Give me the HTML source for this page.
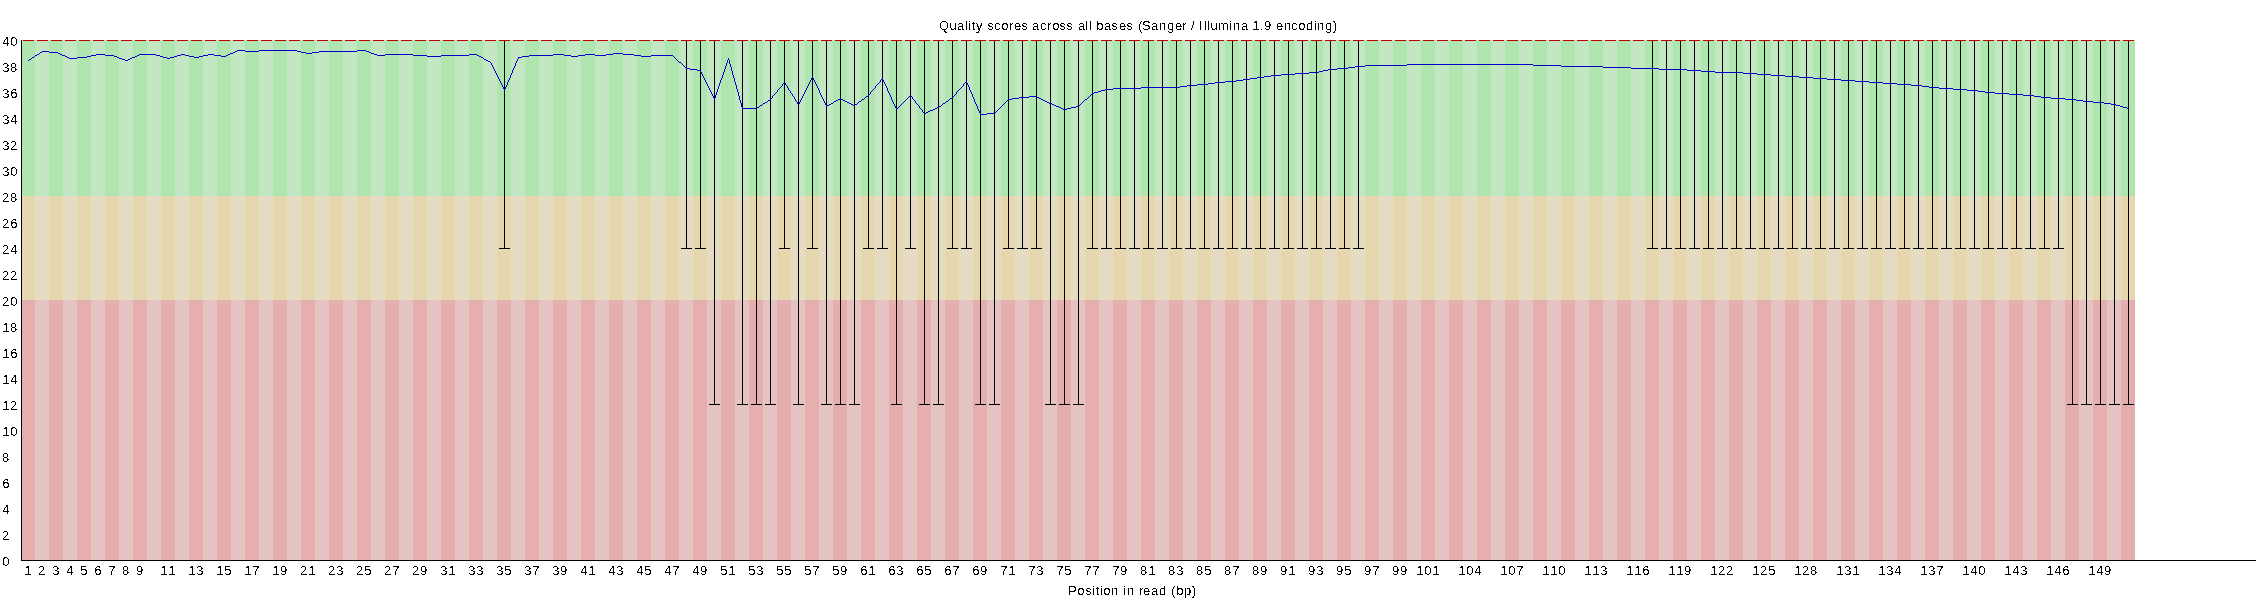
<!DOCTYPE html><html><head><meta charset="utf-8"><style>html,body{margin:0;padding:0;background:#fff;}svg{display:block;will-change:transform;}text{font-family:"Liberation Sans",sans-serif;fill:#000;}</style></head><body>
<svg width="2265" height="600" viewBox="0 0 2265 600">
<rect x="0" y="0" width="2265" height="600" fill="#fff"/>
<g shape-rendering="crispEdges">
<rect x="21" y="300" width="14" height="260" fill="#e6afaf"/>
<rect x="21" y="196" width="14" height="104" fill="#e6d7af"/>
<rect x="21" y="40" width="14" height="156" fill="#afe6af"/>
<rect x="35" y="300" width="14" height="260" fill="#e6c3c3"/>
<rect x="35" y="196" width="14" height="104" fill="#e6dcc3"/>
<rect x="35" y="40" width="14" height="156" fill="#c3e6c3"/>
<rect x="49" y="300" width="14" height="260" fill="#e6afaf"/>
<rect x="49" y="196" width="14" height="104" fill="#e6d7af"/>
<rect x="49" y="40" width="14" height="156" fill="#afe6af"/>
<rect x="63" y="300" width="14" height="260" fill="#e6c3c3"/>
<rect x="63" y="196" width="14" height="104" fill="#e6dcc3"/>
<rect x="63" y="40" width="14" height="156" fill="#c3e6c3"/>
<rect x="77" y="300" width="14" height="260" fill="#e6afaf"/>
<rect x="77" y="196" width="14" height="104" fill="#e6d7af"/>
<rect x="77" y="40" width="14" height="156" fill="#afe6af"/>
<rect x="91" y="300" width="14" height="260" fill="#e6c3c3"/>
<rect x="91" y="196" width="14" height="104" fill="#e6dcc3"/>
<rect x="91" y="40" width="14" height="156" fill="#c3e6c3"/>
<rect x="105" y="300" width="14" height="260" fill="#e6afaf"/>
<rect x="105" y="196" width="14" height="104" fill="#e6d7af"/>
<rect x="105" y="40" width="14" height="156" fill="#afe6af"/>
<rect x="119" y="300" width="14" height="260" fill="#e6c3c3"/>
<rect x="119" y="196" width="14" height="104" fill="#e6dcc3"/>
<rect x="119" y="40" width="14" height="156" fill="#c3e6c3"/>
<rect x="133" y="300" width="14" height="260" fill="#e6afaf"/>
<rect x="133" y="196" width="14" height="104" fill="#e6d7af"/>
<rect x="133" y="40" width="14" height="156" fill="#afe6af"/>
<rect x="147" y="300" width="14" height="260" fill="#e6c3c3"/>
<rect x="147" y="196" width="14" height="104" fill="#e6dcc3"/>
<rect x="147" y="40" width="14" height="156" fill="#c3e6c3"/>
<rect x="161" y="300" width="14" height="260" fill="#e6afaf"/>
<rect x="161" y="196" width="14" height="104" fill="#e6d7af"/>
<rect x="161" y="40" width="14" height="156" fill="#afe6af"/>
<rect x="175" y="300" width="14" height="260" fill="#e6c3c3"/>
<rect x="175" y="196" width="14" height="104" fill="#e6dcc3"/>
<rect x="175" y="40" width="14" height="156" fill="#c3e6c3"/>
<rect x="189" y="300" width="14" height="260" fill="#e6afaf"/>
<rect x="189" y="196" width="14" height="104" fill="#e6d7af"/>
<rect x="189" y="40" width="14" height="156" fill="#afe6af"/>
<rect x="203" y="300" width="14" height="260" fill="#e6c3c3"/>
<rect x="203" y="196" width="14" height="104" fill="#e6dcc3"/>
<rect x="203" y="40" width="14" height="156" fill="#c3e6c3"/>
<rect x="217" y="300" width="14" height="260" fill="#e6afaf"/>
<rect x="217" y="196" width="14" height="104" fill="#e6d7af"/>
<rect x="217" y="40" width="14" height="156" fill="#afe6af"/>
<rect x="231" y="300" width="14" height="260" fill="#e6c3c3"/>
<rect x="231" y="196" width="14" height="104" fill="#e6dcc3"/>
<rect x="231" y="40" width="14" height="156" fill="#c3e6c3"/>
<rect x="245" y="300" width="14" height="260" fill="#e6afaf"/>
<rect x="245" y="196" width="14" height="104" fill="#e6d7af"/>
<rect x="245" y="40" width="14" height="156" fill="#afe6af"/>
<rect x="259" y="300" width="14" height="260" fill="#e6c3c3"/>
<rect x="259" y="196" width="14" height="104" fill="#e6dcc3"/>
<rect x="259" y="40" width="14" height="156" fill="#c3e6c3"/>
<rect x="273" y="300" width="14" height="260" fill="#e6afaf"/>
<rect x="273" y="196" width="14" height="104" fill="#e6d7af"/>
<rect x="273" y="40" width="14" height="156" fill="#afe6af"/>
<rect x="287" y="300" width="14" height="260" fill="#e6c3c3"/>
<rect x="287" y="196" width="14" height="104" fill="#e6dcc3"/>
<rect x="287" y="40" width="14" height="156" fill="#c3e6c3"/>
<rect x="301" y="300" width="14" height="260" fill="#e6afaf"/>
<rect x="301" y="196" width="14" height="104" fill="#e6d7af"/>
<rect x="301" y="40" width="14" height="156" fill="#afe6af"/>
<rect x="315" y="300" width="14" height="260" fill="#e6c3c3"/>
<rect x="315" y="196" width="14" height="104" fill="#e6dcc3"/>
<rect x="315" y="40" width="14" height="156" fill="#c3e6c3"/>
<rect x="329" y="300" width="14" height="260" fill="#e6afaf"/>
<rect x="329" y="196" width="14" height="104" fill="#e6d7af"/>
<rect x="329" y="40" width="14" height="156" fill="#afe6af"/>
<rect x="343" y="300" width="14" height="260" fill="#e6c3c3"/>
<rect x="343" y="196" width="14" height="104" fill="#e6dcc3"/>
<rect x="343" y="40" width="14" height="156" fill="#c3e6c3"/>
<rect x="357" y="300" width="14" height="260" fill="#e6afaf"/>
<rect x="357" y="196" width="14" height="104" fill="#e6d7af"/>
<rect x="357" y="40" width="14" height="156" fill="#afe6af"/>
<rect x="371" y="300" width="14" height="260" fill="#e6c3c3"/>
<rect x="371" y="196" width="14" height="104" fill="#e6dcc3"/>
<rect x="371" y="40" width="14" height="156" fill="#c3e6c3"/>
<rect x="385" y="300" width="14" height="260" fill="#e6afaf"/>
<rect x="385" y="196" width="14" height="104" fill="#e6d7af"/>
<rect x="385" y="40" width="14" height="156" fill="#afe6af"/>
<rect x="399" y="300" width="14" height="260" fill="#e6c3c3"/>
<rect x="399" y="196" width="14" height="104" fill="#e6dcc3"/>
<rect x="399" y="40" width="14" height="156" fill="#c3e6c3"/>
<rect x="413" y="300" width="14" height="260" fill="#e6afaf"/>
<rect x="413" y="196" width="14" height="104" fill="#e6d7af"/>
<rect x="413" y="40" width="14" height="156" fill="#afe6af"/>
<rect x="427" y="300" width="14" height="260" fill="#e6c3c3"/>
<rect x="427" y="196" width="14" height="104" fill="#e6dcc3"/>
<rect x="427" y="40" width="14" height="156" fill="#c3e6c3"/>
<rect x="441" y="300" width="14" height="260" fill="#e6afaf"/>
<rect x="441" y="196" width="14" height="104" fill="#e6d7af"/>
<rect x="441" y="40" width="14" height="156" fill="#afe6af"/>
<rect x="455" y="300" width="14" height="260" fill="#e6c3c3"/>
<rect x="455" y="196" width="14" height="104" fill="#e6dcc3"/>
<rect x="455" y="40" width="14" height="156" fill="#c3e6c3"/>
<rect x="469" y="300" width="14" height="260" fill="#e6afaf"/>
<rect x="469" y="196" width="14" height="104" fill="#e6d7af"/>
<rect x="469" y="40" width="14" height="156" fill="#afe6af"/>
<rect x="483" y="300" width="14" height="260" fill="#e6c3c3"/>
<rect x="483" y="196" width="14" height="104" fill="#e6dcc3"/>
<rect x="483" y="40" width="14" height="156" fill="#c3e6c3"/>
<rect x="497" y="300" width="14" height="260" fill="#e6afaf"/>
<rect x="497" y="196" width="14" height="104" fill="#e6d7af"/>
<rect x="497" y="40" width="14" height="156" fill="#afe6af"/>
<rect x="511" y="300" width="14" height="260" fill="#e6c3c3"/>
<rect x="511" y="196" width="14" height="104" fill="#e6dcc3"/>
<rect x="511" y="40" width="14" height="156" fill="#c3e6c3"/>
<rect x="525" y="300" width="14" height="260" fill="#e6afaf"/>
<rect x="525" y="196" width="14" height="104" fill="#e6d7af"/>
<rect x="525" y="40" width="14" height="156" fill="#afe6af"/>
<rect x="539" y="300" width="14" height="260" fill="#e6c3c3"/>
<rect x="539" y="196" width="14" height="104" fill="#e6dcc3"/>
<rect x="539" y="40" width="14" height="156" fill="#c3e6c3"/>
<rect x="553" y="300" width="14" height="260" fill="#e6afaf"/>
<rect x="553" y="196" width="14" height="104" fill="#e6d7af"/>
<rect x="553" y="40" width="14" height="156" fill="#afe6af"/>
<rect x="567" y="300" width="14" height="260" fill="#e6c3c3"/>
<rect x="567" y="196" width="14" height="104" fill="#e6dcc3"/>
<rect x="567" y="40" width="14" height="156" fill="#c3e6c3"/>
<rect x="581" y="300" width="14" height="260" fill="#e6afaf"/>
<rect x="581" y="196" width="14" height="104" fill="#e6d7af"/>
<rect x="581" y="40" width="14" height="156" fill="#afe6af"/>
<rect x="595" y="300" width="14" height="260" fill="#e6c3c3"/>
<rect x="595" y="196" width="14" height="104" fill="#e6dcc3"/>
<rect x="595" y="40" width="14" height="156" fill="#c3e6c3"/>
<rect x="609" y="300" width="14" height="260" fill="#e6afaf"/>
<rect x="609" y="196" width="14" height="104" fill="#e6d7af"/>
<rect x="609" y="40" width="14" height="156" fill="#afe6af"/>
<rect x="623" y="300" width="14" height="260" fill="#e6c3c3"/>
<rect x="623" y="196" width="14" height="104" fill="#e6dcc3"/>
<rect x="623" y="40" width="14" height="156" fill="#c3e6c3"/>
<rect x="637" y="300" width="14" height="260" fill="#e6afaf"/>
<rect x="637" y="196" width="14" height="104" fill="#e6d7af"/>
<rect x="637" y="40" width="14" height="156" fill="#afe6af"/>
<rect x="651" y="300" width="14" height="260" fill="#e6c3c3"/>
<rect x="651" y="196" width="14" height="104" fill="#e6dcc3"/>
<rect x="651" y="40" width="14" height="156" fill="#c3e6c3"/>
<rect x="665" y="300" width="14" height="260" fill="#e6afaf"/>
<rect x="665" y="196" width="14" height="104" fill="#e6d7af"/>
<rect x="665" y="40" width="14" height="156" fill="#afe6af"/>
<rect x="679" y="300" width="14" height="260" fill="#e6c3c3"/>
<rect x="679" y="196" width="14" height="104" fill="#e6dcc3"/>
<rect x="679" y="40" width="14" height="156" fill="#c3e6c3"/>
<rect x="693" y="300" width="14" height="260" fill="#e6afaf"/>
<rect x="693" y="196" width="14" height="104" fill="#e6d7af"/>
<rect x="693" y="40" width="14" height="156" fill="#afe6af"/>
<rect x="707" y="300" width="14" height="260" fill="#e6c3c3"/>
<rect x="707" y="196" width="14" height="104" fill="#e6dcc3"/>
<rect x="707" y="40" width="14" height="156" fill="#c3e6c3"/>
<rect x="721" y="300" width="14" height="260" fill="#e6afaf"/>
<rect x="721" y="196" width="14" height="104" fill="#e6d7af"/>
<rect x="721" y="40" width="14" height="156" fill="#afe6af"/>
<rect x="735" y="300" width="14" height="260" fill="#e6c3c3"/>
<rect x="735" y="196" width="14" height="104" fill="#e6dcc3"/>
<rect x="735" y="40" width="14" height="156" fill="#c3e6c3"/>
<rect x="749" y="300" width="14" height="260" fill="#e6afaf"/>
<rect x="749" y="196" width="14" height="104" fill="#e6d7af"/>
<rect x="749" y="40" width="14" height="156" fill="#afe6af"/>
<rect x="763" y="300" width="14" height="260" fill="#e6c3c3"/>
<rect x="763" y="196" width="14" height="104" fill="#e6dcc3"/>
<rect x="763" y="40" width="14" height="156" fill="#c3e6c3"/>
<rect x="777" y="300" width="14" height="260" fill="#e6afaf"/>
<rect x="777" y="196" width="14" height="104" fill="#e6d7af"/>
<rect x="777" y="40" width="14" height="156" fill="#afe6af"/>
<rect x="791" y="300" width="14" height="260" fill="#e6c3c3"/>
<rect x="791" y="196" width="14" height="104" fill="#e6dcc3"/>
<rect x="791" y="40" width="14" height="156" fill="#c3e6c3"/>
<rect x="805" y="300" width="14" height="260" fill="#e6afaf"/>
<rect x="805" y="196" width="14" height="104" fill="#e6d7af"/>
<rect x="805" y="40" width="14" height="156" fill="#afe6af"/>
<rect x="819" y="300" width="14" height="260" fill="#e6c3c3"/>
<rect x="819" y="196" width="14" height="104" fill="#e6dcc3"/>
<rect x="819" y="40" width="14" height="156" fill="#c3e6c3"/>
<rect x="833" y="300" width="14" height="260" fill="#e6afaf"/>
<rect x="833" y="196" width="14" height="104" fill="#e6d7af"/>
<rect x="833" y="40" width="14" height="156" fill="#afe6af"/>
<rect x="847" y="300" width="14" height="260" fill="#e6c3c3"/>
<rect x="847" y="196" width="14" height="104" fill="#e6dcc3"/>
<rect x="847" y="40" width="14" height="156" fill="#c3e6c3"/>
<rect x="861" y="300" width="14" height="260" fill="#e6afaf"/>
<rect x="861" y="196" width="14" height="104" fill="#e6d7af"/>
<rect x="861" y="40" width="14" height="156" fill="#afe6af"/>
<rect x="875" y="300" width="14" height="260" fill="#e6c3c3"/>
<rect x="875" y="196" width="14" height="104" fill="#e6dcc3"/>
<rect x="875" y="40" width="14" height="156" fill="#c3e6c3"/>
<rect x="889" y="300" width="14" height="260" fill="#e6afaf"/>
<rect x="889" y="196" width="14" height="104" fill="#e6d7af"/>
<rect x="889" y="40" width="14" height="156" fill="#afe6af"/>
<rect x="903" y="300" width="14" height="260" fill="#e6c3c3"/>
<rect x="903" y="196" width="14" height="104" fill="#e6dcc3"/>
<rect x="903" y="40" width="14" height="156" fill="#c3e6c3"/>
<rect x="917" y="300" width="14" height="260" fill="#e6afaf"/>
<rect x="917" y="196" width="14" height="104" fill="#e6d7af"/>
<rect x="917" y="40" width="14" height="156" fill="#afe6af"/>
<rect x="931" y="300" width="14" height="260" fill="#e6c3c3"/>
<rect x="931" y="196" width="14" height="104" fill="#e6dcc3"/>
<rect x="931" y="40" width="14" height="156" fill="#c3e6c3"/>
<rect x="945" y="300" width="14" height="260" fill="#e6afaf"/>
<rect x="945" y="196" width="14" height="104" fill="#e6d7af"/>
<rect x="945" y="40" width="14" height="156" fill="#afe6af"/>
<rect x="959" y="300" width="14" height="260" fill="#e6c3c3"/>
<rect x="959" y="196" width="14" height="104" fill="#e6dcc3"/>
<rect x="959" y="40" width="14" height="156" fill="#c3e6c3"/>
<rect x="973" y="300" width="14" height="260" fill="#e6afaf"/>
<rect x="973" y="196" width="14" height="104" fill="#e6d7af"/>
<rect x="973" y="40" width="14" height="156" fill="#afe6af"/>
<rect x="987" y="300" width="14" height="260" fill="#e6c3c3"/>
<rect x="987" y="196" width="14" height="104" fill="#e6dcc3"/>
<rect x="987" y="40" width="14" height="156" fill="#c3e6c3"/>
<rect x="1001" y="300" width="14" height="260" fill="#e6afaf"/>
<rect x="1001" y="196" width="14" height="104" fill="#e6d7af"/>
<rect x="1001" y="40" width="14" height="156" fill="#afe6af"/>
<rect x="1015" y="300" width="14" height="260" fill="#e6c3c3"/>
<rect x="1015" y="196" width="14" height="104" fill="#e6dcc3"/>
<rect x="1015" y="40" width="14" height="156" fill="#c3e6c3"/>
<rect x="1029" y="300" width="14" height="260" fill="#e6afaf"/>
<rect x="1029" y="196" width="14" height="104" fill="#e6d7af"/>
<rect x="1029" y="40" width="14" height="156" fill="#afe6af"/>
<rect x="1043" y="300" width="14" height="260" fill="#e6c3c3"/>
<rect x="1043" y="196" width="14" height="104" fill="#e6dcc3"/>
<rect x="1043" y="40" width="14" height="156" fill="#c3e6c3"/>
<rect x="1057" y="300" width="14" height="260" fill="#e6afaf"/>
<rect x="1057" y="196" width="14" height="104" fill="#e6d7af"/>
<rect x="1057" y="40" width="14" height="156" fill="#afe6af"/>
<rect x="1071" y="300" width="14" height="260" fill="#e6c3c3"/>
<rect x="1071" y="196" width="14" height="104" fill="#e6dcc3"/>
<rect x="1071" y="40" width="14" height="156" fill="#c3e6c3"/>
<rect x="1085" y="300" width="14" height="260" fill="#e6afaf"/>
<rect x="1085" y="196" width="14" height="104" fill="#e6d7af"/>
<rect x="1085" y="40" width="14" height="156" fill="#afe6af"/>
<rect x="1099" y="300" width="14" height="260" fill="#e6c3c3"/>
<rect x="1099" y="196" width="14" height="104" fill="#e6dcc3"/>
<rect x="1099" y="40" width="14" height="156" fill="#c3e6c3"/>
<rect x="1113" y="300" width="14" height="260" fill="#e6afaf"/>
<rect x="1113" y="196" width="14" height="104" fill="#e6d7af"/>
<rect x="1113" y="40" width="14" height="156" fill="#afe6af"/>
<rect x="1127" y="300" width="14" height="260" fill="#e6c3c3"/>
<rect x="1127" y="196" width="14" height="104" fill="#e6dcc3"/>
<rect x="1127" y="40" width="14" height="156" fill="#c3e6c3"/>
<rect x="1141" y="300" width="14" height="260" fill="#e6afaf"/>
<rect x="1141" y="196" width="14" height="104" fill="#e6d7af"/>
<rect x="1141" y="40" width="14" height="156" fill="#afe6af"/>
<rect x="1155" y="300" width="14" height="260" fill="#e6c3c3"/>
<rect x="1155" y="196" width="14" height="104" fill="#e6dcc3"/>
<rect x="1155" y="40" width="14" height="156" fill="#c3e6c3"/>
<rect x="1169" y="300" width="14" height="260" fill="#e6afaf"/>
<rect x="1169" y="196" width="14" height="104" fill="#e6d7af"/>
<rect x="1169" y="40" width="14" height="156" fill="#afe6af"/>
<rect x="1183" y="300" width="14" height="260" fill="#e6c3c3"/>
<rect x="1183" y="196" width="14" height="104" fill="#e6dcc3"/>
<rect x="1183" y="40" width="14" height="156" fill="#c3e6c3"/>
<rect x="1197" y="300" width="14" height="260" fill="#e6afaf"/>
<rect x="1197" y="196" width="14" height="104" fill="#e6d7af"/>
<rect x="1197" y="40" width="14" height="156" fill="#afe6af"/>
<rect x="1211" y="300" width="14" height="260" fill="#e6c3c3"/>
<rect x="1211" y="196" width="14" height="104" fill="#e6dcc3"/>
<rect x="1211" y="40" width="14" height="156" fill="#c3e6c3"/>
<rect x="1225" y="300" width="14" height="260" fill="#e6afaf"/>
<rect x="1225" y="196" width="14" height="104" fill="#e6d7af"/>
<rect x="1225" y="40" width="14" height="156" fill="#afe6af"/>
<rect x="1239" y="300" width="14" height="260" fill="#e6c3c3"/>
<rect x="1239" y="196" width="14" height="104" fill="#e6dcc3"/>
<rect x="1239" y="40" width="14" height="156" fill="#c3e6c3"/>
<rect x="1253" y="300" width="14" height="260" fill="#e6afaf"/>
<rect x="1253" y="196" width="14" height="104" fill="#e6d7af"/>
<rect x="1253" y="40" width="14" height="156" fill="#afe6af"/>
<rect x="1267" y="300" width="14" height="260" fill="#e6c3c3"/>
<rect x="1267" y="196" width="14" height="104" fill="#e6dcc3"/>
<rect x="1267" y="40" width="14" height="156" fill="#c3e6c3"/>
<rect x="1281" y="300" width="14" height="260" fill="#e6afaf"/>
<rect x="1281" y="196" width="14" height="104" fill="#e6d7af"/>
<rect x="1281" y="40" width="14" height="156" fill="#afe6af"/>
<rect x="1295" y="300" width="14" height="260" fill="#e6c3c3"/>
<rect x="1295" y="196" width="14" height="104" fill="#e6dcc3"/>
<rect x="1295" y="40" width="14" height="156" fill="#c3e6c3"/>
<rect x="1309" y="300" width="14" height="260" fill="#e6afaf"/>
<rect x="1309" y="196" width="14" height="104" fill="#e6d7af"/>
<rect x="1309" y="40" width="14" height="156" fill="#afe6af"/>
<rect x="1323" y="300" width="14" height="260" fill="#e6c3c3"/>
<rect x="1323" y="196" width="14" height="104" fill="#e6dcc3"/>
<rect x="1323" y="40" width="14" height="156" fill="#c3e6c3"/>
<rect x="1337" y="300" width="14" height="260" fill="#e6afaf"/>
<rect x="1337" y="196" width="14" height="104" fill="#e6d7af"/>
<rect x="1337" y="40" width="14" height="156" fill="#afe6af"/>
<rect x="1351" y="300" width="14" height="260" fill="#e6c3c3"/>
<rect x="1351" y="196" width="14" height="104" fill="#e6dcc3"/>
<rect x="1351" y="40" width="14" height="156" fill="#c3e6c3"/>
<rect x="1365" y="300" width="14" height="260" fill="#e6afaf"/>
<rect x="1365" y="196" width="14" height="104" fill="#e6d7af"/>
<rect x="1365" y="40" width="14" height="156" fill="#afe6af"/>
<rect x="1379" y="300" width="14" height="260" fill="#e6c3c3"/>
<rect x="1379" y="196" width="14" height="104" fill="#e6dcc3"/>
<rect x="1379" y="40" width="14" height="156" fill="#c3e6c3"/>
<rect x="1393" y="300" width="14" height="260" fill="#e6afaf"/>
<rect x="1393" y="196" width="14" height="104" fill="#e6d7af"/>
<rect x="1393" y="40" width="14" height="156" fill="#afe6af"/>
<rect x="1407" y="300" width="14" height="260" fill="#e6c3c3"/>
<rect x="1407" y="196" width="14" height="104" fill="#e6dcc3"/>
<rect x="1407" y="40" width="14" height="156" fill="#c3e6c3"/>
<rect x="1421" y="300" width="14" height="260" fill="#e6afaf"/>
<rect x="1421" y="196" width="14" height="104" fill="#e6d7af"/>
<rect x="1421" y="40" width="14" height="156" fill="#afe6af"/>
<rect x="1435" y="300" width="14" height="260" fill="#e6c3c3"/>
<rect x="1435" y="196" width="14" height="104" fill="#e6dcc3"/>
<rect x="1435" y="40" width="14" height="156" fill="#c3e6c3"/>
<rect x="1449" y="300" width="14" height="260" fill="#e6afaf"/>
<rect x="1449" y="196" width="14" height="104" fill="#e6d7af"/>
<rect x="1449" y="40" width="14" height="156" fill="#afe6af"/>
<rect x="1463" y="300" width="14" height="260" fill="#e6c3c3"/>
<rect x="1463" y="196" width="14" height="104" fill="#e6dcc3"/>
<rect x="1463" y="40" width="14" height="156" fill="#c3e6c3"/>
<rect x="1477" y="300" width="14" height="260" fill="#e6afaf"/>
<rect x="1477" y="196" width="14" height="104" fill="#e6d7af"/>
<rect x="1477" y="40" width="14" height="156" fill="#afe6af"/>
<rect x="1491" y="300" width="14" height="260" fill="#e6c3c3"/>
<rect x="1491" y="196" width="14" height="104" fill="#e6dcc3"/>
<rect x="1491" y="40" width="14" height="156" fill="#c3e6c3"/>
<rect x="1505" y="300" width="14" height="260" fill="#e6afaf"/>
<rect x="1505" y="196" width="14" height="104" fill="#e6d7af"/>
<rect x="1505" y="40" width="14" height="156" fill="#afe6af"/>
<rect x="1519" y="300" width="14" height="260" fill="#e6c3c3"/>
<rect x="1519" y="196" width="14" height="104" fill="#e6dcc3"/>
<rect x="1519" y="40" width="14" height="156" fill="#c3e6c3"/>
<rect x="1533" y="300" width="14" height="260" fill="#e6afaf"/>
<rect x="1533" y="196" width="14" height="104" fill="#e6d7af"/>
<rect x="1533" y="40" width="14" height="156" fill="#afe6af"/>
<rect x="1547" y="300" width="14" height="260" fill="#e6c3c3"/>
<rect x="1547" y="196" width="14" height="104" fill="#e6dcc3"/>
<rect x="1547" y="40" width="14" height="156" fill="#c3e6c3"/>
<rect x="1561" y="300" width="14" height="260" fill="#e6afaf"/>
<rect x="1561" y="196" width="14" height="104" fill="#e6d7af"/>
<rect x="1561" y="40" width="14" height="156" fill="#afe6af"/>
<rect x="1575" y="300" width="14" height="260" fill="#e6c3c3"/>
<rect x="1575" y="196" width="14" height="104" fill="#e6dcc3"/>
<rect x="1575" y="40" width="14" height="156" fill="#c3e6c3"/>
<rect x="1589" y="300" width="14" height="260" fill="#e6afaf"/>
<rect x="1589" y="196" width="14" height="104" fill="#e6d7af"/>
<rect x="1589" y="40" width="14" height="156" fill="#afe6af"/>
<rect x="1603" y="300" width="14" height="260" fill="#e6c3c3"/>
<rect x="1603" y="196" width="14" height="104" fill="#e6dcc3"/>
<rect x="1603" y="40" width="14" height="156" fill="#c3e6c3"/>
<rect x="1617" y="300" width="14" height="260" fill="#e6afaf"/>
<rect x="1617" y="196" width="14" height="104" fill="#e6d7af"/>
<rect x="1617" y="40" width="14" height="156" fill="#afe6af"/>
<rect x="1631" y="300" width="14" height="260" fill="#e6c3c3"/>
<rect x="1631" y="196" width="14" height="104" fill="#e6dcc3"/>
<rect x="1631" y="40" width="14" height="156" fill="#c3e6c3"/>
<rect x="1645" y="300" width="14" height="260" fill="#e6afaf"/>
<rect x="1645" y="196" width="14" height="104" fill="#e6d7af"/>
<rect x="1645" y="40" width="14" height="156" fill="#afe6af"/>
<rect x="1659" y="300" width="14" height="260" fill="#e6c3c3"/>
<rect x="1659" y="196" width="14" height="104" fill="#e6dcc3"/>
<rect x="1659" y="40" width="14" height="156" fill="#c3e6c3"/>
<rect x="1673" y="300" width="14" height="260" fill="#e6afaf"/>
<rect x="1673" y="196" width="14" height="104" fill="#e6d7af"/>
<rect x="1673" y="40" width="14" height="156" fill="#afe6af"/>
<rect x="1687" y="300" width="14" height="260" fill="#e6c3c3"/>
<rect x="1687" y="196" width="14" height="104" fill="#e6dcc3"/>
<rect x="1687" y="40" width="14" height="156" fill="#c3e6c3"/>
<rect x="1701" y="300" width="14" height="260" fill="#e6afaf"/>
<rect x="1701" y="196" width="14" height="104" fill="#e6d7af"/>
<rect x="1701" y="40" width="14" height="156" fill="#afe6af"/>
<rect x="1715" y="300" width="14" height="260" fill="#e6c3c3"/>
<rect x="1715" y="196" width="14" height="104" fill="#e6dcc3"/>
<rect x="1715" y="40" width="14" height="156" fill="#c3e6c3"/>
<rect x="1729" y="300" width="14" height="260" fill="#e6afaf"/>
<rect x="1729" y="196" width="14" height="104" fill="#e6d7af"/>
<rect x="1729" y="40" width="14" height="156" fill="#afe6af"/>
<rect x="1743" y="300" width="14" height="260" fill="#e6c3c3"/>
<rect x="1743" y="196" width="14" height="104" fill="#e6dcc3"/>
<rect x="1743" y="40" width="14" height="156" fill="#c3e6c3"/>
<rect x="1757" y="300" width="14" height="260" fill="#e6afaf"/>
<rect x="1757" y="196" width="14" height="104" fill="#e6d7af"/>
<rect x="1757" y="40" width="14" height="156" fill="#afe6af"/>
<rect x="1771" y="300" width="14" height="260" fill="#e6c3c3"/>
<rect x="1771" y="196" width="14" height="104" fill="#e6dcc3"/>
<rect x="1771" y="40" width="14" height="156" fill="#c3e6c3"/>
<rect x="1785" y="300" width="14" height="260" fill="#e6afaf"/>
<rect x="1785" y="196" width="14" height="104" fill="#e6d7af"/>
<rect x="1785" y="40" width="14" height="156" fill="#afe6af"/>
<rect x="1799" y="300" width="14" height="260" fill="#e6c3c3"/>
<rect x="1799" y="196" width="14" height="104" fill="#e6dcc3"/>
<rect x="1799" y="40" width="14" height="156" fill="#c3e6c3"/>
<rect x="1813" y="300" width="14" height="260" fill="#e6afaf"/>
<rect x="1813" y="196" width="14" height="104" fill="#e6d7af"/>
<rect x="1813" y="40" width="14" height="156" fill="#afe6af"/>
<rect x="1827" y="300" width="14" height="260" fill="#e6c3c3"/>
<rect x="1827" y="196" width="14" height="104" fill="#e6dcc3"/>
<rect x="1827" y="40" width="14" height="156" fill="#c3e6c3"/>
<rect x="1841" y="300" width="14" height="260" fill="#e6afaf"/>
<rect x="1841" y="196" width="14" height="104" fill="#e6d7af"/>
<rect x="1841" y="40" width="14" height="156" fill="#afe6af"/>
<rect x="1855" y="300" width="14" height="260" fill="#e6c3c3"/>
<rect x="1855" y="196" width="14" height="104" fill="#e6dcc3"/>
<rect x="1855" y="40" width="14" height="156" fill="#c3e6c3"/>
<rect x="1869" y="300" width="14" height="260" fill="#e6afaf"/>
<rect x="1869" y="196" width="14" height="104" fill="#e6d7af"/>
<rect x="1869" y="40" width="14" height="156" fill="#afe6af"/>
<rect x="1883" y="300" width="14" height="260" fill="#e6c3c3"/>
<rect x="1883" y="196" width="14" height="104" fill="#e6dcc3"/>
<rect x="1883" y="40" width="14" height="156" fill="#c3e6c3"/>
<rect x="1897" y="300" width="14" height="260" fill="#e6afaf"/>
<rect x="1897" y="196" width="14" height="104" fill="#e6d7af"/>
<rect x="1897" y="40" width="14" height="156" fill="#afe6af"/>
<rect x="1911" y="300" width="14" height="260" fill="#e6c3c3"/>
<rect x="1911" y="196" width="14" height="104" fill="#e6dcc3"/>
<rect x="1911" y="40" width="14" height="156" fill="#c3e6c3"/>
<rect x="1925" y="300" width="14" height="260" fill="#e6afaf"/>
<rect x="1925" y="196" width="14" height="104" fill="#e6d7af"/>
<rect x="1925" y="40" width="14" height="156" fill="#afe6af"/>
<rect x="1939" y="300" width="14" height="260" fill="#e6c3c3"/>
<rect x="1939" y="196" width="14" height="104" fill="#e6dcc3"/>
<rect x="1939" y="40" width="14" height="156" fill="#c3e6c3"/>
<rect x="1953" y="300" width="14" height="260" fill="#e6afaf"/>
<rect x="1953" y="196" width="14" height="104" fill="#e6d7af"/>
<rect x="1953" y="40" width="14" height="156" fill="#afe6af"/>
<rect x="1967" y="300" width="14" height="260" fill="#e6c3c3"/>
<rect x="1967" y="196" width="14" height="104" fill="#e6dcc3"/>
<rect x="1967" y="40" width="14" height="156" fill="#c3e6c3"/>
<rect x="1981" y="300" width="14" height="260" fill="#e6afaf"/>
<rect x="1981" y="196" width="14" height="104" fill="#e6d7af"/>
<rect x="1981" y="40" width="14" height="156" fill="#afe6af"/>
<rect x="1995" y="300" width="14" height="260" fill="#e6c3c3"/>
<rect x="1995" y="196" width="14" height="104" fill="#e6dcc3"/>
<rect x="1995" y="40" width="14" height="156" fill="#c3e6c3"/>
<rect x="2009" y="300" width="14" height="260" fill="#e6afaf"/>
<rect x="2009" y="196" width="14" height="104" fill="#e6d7af"/>
<rect x="2009" y="40" width="14" height="156" fill="#afe6af"/>
<rect x="2023" y="300" width="14" height="260" fill="#e6c3c3"/>
<rect x="2023" y="196" width="14" height="104" fill="#e6dcc3"/>
<rect x="2023" y="40" width="14" height="156" fill="#c3e6c3"/>
<rect x="2037" y="300" width="14" height="260" fill="#e6afaf"/>
<rect x="2037" y="196" width="14" height="104" fill="#e6d7af"/>
<rect x="2037" y="40" width="14" height="156" fill="#afe6af"/>
<rect x="2051" y="300" width="14" height="260" fill="#e6c3c3"/>
<rect x="2051" y="196" width="14" height="104" fill="#e6dcc3"/>
<rect x="2051" y="40" width="14" height="156" fill="#c3e6c3"/>
<rect x="2065" y="300" width="14" height="260" fill="#e6afaf"/>
<rect x="2065" y="196" width="14" height="104" fill="#e6d7af"/>
<rect x="2065" y="40" width="14" height="156" fill="#afe6af"/>
<rect x="2079" y="300" width="14" height="260" fill="#e6c3c3"/>
<rect x="2079" y="196" width="14" height="104" fill="#e6dcc3"/>
<rect x="2079" y="40" width="14" height="156" fill="#c3e6c3"/>
<rect x="2093" y="300" width="14" height="260" fill="#e6afaf"/>
<rect x="2093" y="196" width="14" height="104" fill="#e6d7af"/>
<rect x="2093" y="40" width="14" height="156" fill="#afe6af"/>
<rect x="2107" y="300" width="14" height="260" fill="#e6c3c3"/>
<rect x="2107" y="196" width="14" height="104" fill="#e6dcc3"/>
<rect x="2107" y="40" width="14" height="156" fill="#c3e6c3"/>
<rect x="2121" y="300" width="14" height="260" fill="#e6afaf"/>
<rect x="2121" y="196" width="14" height="104" fill="#e6d7af"/>
<rect x="2121" y="40" width="14" height="156" fill="#afe6af"/>
<rect x="21" y="560" width="2235" height="1" fill="#000"/>
<rect x="21" y="40" width="1" height="521" fill="#000"/>
<path fill="#000" d="M504 41h1v207h-1zM499 248h11v1h-11zM686 41h1v207h-1zM681 248h11v1h-11zM700 41h1v207h-1zM695 248h11v1h-11zM714 41h1v363h-1zM709 404h11v1h-11zM742 41h1v363h-1zM737 404h11v1h-11zM756 41h1v363h-1zM751 404h11v1h-11zM770 41h1v363h-1zM765 404h11v1h-11zM784 41h1v207h-1zM779 248h11v1h-11zM798 41h1v363h-1zM793 404h11v1h-11zM812 41h1v207h-1zM807 248h11v1h-11zM826 41h1v363h-1zM821 404h11v1h-11zM840 41h1v363h-1zM835 404h11v1h-11zM854 41h1v363h-1zM849 404h11v1h-11zM868 41h1v207h-1zM863 248h11v1h-11zM882 41h1v207h-1zM877 248h11v1h-11zM896 41h1v363h-1zM891 404h11v1h-11zM910 41h1v207h-1zM905 248h11v1h-11zM924 41h1v363h-1zM919 404h11v1h-11zM938 41h1v363h-1zM933 404h11v1h-11zM952 41h1v207h-1zM947 248h11v1h-11zM966 41h1v207h-1zM961 248h11v1h-11zM980 41h1v363h-1zM975 404h11v1h-11zM994 41h1v363h-1zM989 404h11v1h-11zM1008 41h1v207h-1zM1003 248h11v1h-11zM1022 41h1v207h-1zM1017 248h11v1h-11zM1036 41h1v207h-1zM1031 248h11v1h-11zM1050 41h1v363h-1zM1045 404h11v1h-11zM1064 41h1v363h-1zM1059 404h11v1h-11zM1078 41h1v363h-1zM1073 404h11v1h-11zM1092 41h1v207h-1zM1087 248h11v1h-11zM1106 41h1v207h-1zM1101 248h11v1h-11zM1120 41h1v207h-1zM1115 248h11v1h-11zM1134 41h1v207h-1zM1129 248h11v1h-11zM1148 41h1v207h-1zM1143 248h11v1h-11zM1162 41h1v207h-1zM1157 248h11v1h-11zM1176 41h1v207h-1zM1171 248h11v1h-11zM1190 41h1v207h-1zM1185 248h11v1h-11zM1204 41h1v207h-1zM1199 248h11v1h-11zM1218 41h1v207h-1zM1213 248h11v1h-11zM1232 41h1v207h-1zM1227 248h11v1h-11zM1246 41h1v207h-1zM1241 248h11v1h-11zM1260 41h1v207h-1zM1255 248h11v1h-11zM1274 41h1v207h-1zM1269 248h11v1h-11zM1288 41h1v207h-1zM1283 248h11v1h-11zM1302 41h1v207h-1zM1297 248h11v1h-11zM1316 41h1v207h-1zM1311 248h11v1h-11zM1330 41h1v207h-1zM1325 248h11v1h-11zM1344 41h1v207h-1zM1339 248h11v1h-11zM1358 41h1v207h-1zM1353 248h11v1h-11zM1652 41h1v207h-1zM1647 248h11v1h-11zM1666 41h1v207h-1zM1661 248h11v1h-11zM1680 41h1v207h-1zM1675 248h11v1h-11zM1694 41h1v207h-1zM1689 248h11v1h-11zM1708 41h1v207h-1zM1703 248h11v1h-11zM1722 41h1v207h-1zM1717 248h11v1h-11zM1736 41h1v207h-1zM1731 248h11v1h-11zM1750 41h1v207h-1zM1745 248h11v1h-11zM1764 41h1v207h-1zM1759 248h11v1h-11zM1778 41h1v207h-1zM1773 248h11v1h-11zM1792 41h1v207h-1zM1787 248h11v1h-11zM1806 41h1v207h-1zM1801 248h11v1h-11zM1820 41h1v207h-1zM1815 248h11v1h-11zM1834 41h1v207h-1zM1829 248h11v1h-11zM1848 41h1v207h-1zM1843 248h11v1h-11zM1862 41h1v207h-1zM1857 248h11v1h-11zM1876 41h1v207h-1zM1871 248h11v1h-11zM1890 41h1v207h-1zM1885 248h11v1h-11zM1904 41h1v207h-1zM1899 248h11v1h-11zM1918 41h1v207h-1zM1913 248h11v1h-11zM1932 41h1v207h-1zM1927 248h11v1h-11zM1946 41h1v207h-1zM1941 248h11v1h-11zM1960 41h1v207h-1zM1955 248h11v1h-11zM1974 41h1v207h-1zM1969 248h11v1h-11zM1988 41h1v207h-1zM1983 248h11v1h-11zM2002 41h1v207h-1zM1997 248h11v1h-11zM2016 41h1v207h-1zM2011 248h11v1h-11zM2030 41h1v207h-1zM2025 248h11v1h-11zM2044 41h1v207h-1zM2039 248h11v1h-11zM2058 41h1v207h-1zM2053 248h11v1h-11zM2072 41h1v363h-1zM2067 404h11v1h-11zM2086 41h1v363h-1zM2081 404h11v1h-11zM2100 41h1v363h-1zM2095 404h11v1h-11zM2114 41h1v363h-1zM2109 404h11v1h-11zM2128 41h1v363h-1zM2123 404h11v1h-11z"/>
<path fill="#c80000" d="M23 40h11v1h-11zM37 40h11v1h-11zM51 40h11v1h-11zM65 40h11v1h-11zM79 40h11v1h-11zM93 40h11v1h-11zM107 40h11v1h-11zM121 40h11v1h-11zM135 40h11v1h-11zM149 40h11v1h-11zM163 40h11v1h-11zM177 40h11v1h-11zM191 40h11v1h-11zM205 40h11v1h-11zM219 40h11v1h-11zM233 40h11v1h-11zM247 40h11v1h-11zM261 40h11v1h-11zM275 40h11v1h-11zM289 40h11v1h-11zM303 40h11v1h-11zM317 40h11v1h-11zM331 40h11v1h-11zM345 40h11v1h-11zM359 40h11v1h-11zM373 40h11v1h-11zM387 40h11v1h-11zM401 40h11v1h-11zM415 40h11v1h-11zM429 40h11v1h-11zM443 40h11v1h-11zM457 40h11v1h-11zM471 40h11v1h-11zM485 40h11v1h-11zM499 40h11v1h-11zM513 40h11v1h-11zM527 40h11v1h-11zM541 40h11v1h-11zM555 40h11v1h-11zM569 40h11v1h-11zM583 40h11v1h-11zM597 40h11v1h-11zM611 40h11v1h-11zM625 40h11v1h-11zM639 40h11v1h-11zM653 40h11v1h-11zM667 40h11v1h-11zM681 40h11v1h-11zM695 40h11v1h-11zM709 40h11v1h-11zM723 40h11v1h-11zM737 40h11v1h-11zM751 40h11v1h-11zM765 40h11v1h-11zM779 40h11v1h-11zM793 40h11v1h-11zM807 40h11v1h-11zM821 40h11v1h-11zM835 40h11v1h-11zM849 40h11v1h-11zM863 40h11v1h-11zM877 40h11v1h-11zM891 40h11v1h-11zM905 40h11v1h-11zM919 40h11v1h-11zM933 40h11v1h-11zM947 40h11v1h-11zM961 40h11v1h-11zM975 40h11v1h-11zM989 40h11v1h-11zM1003 40h11v1h-11zM1017 40h11v1h-11zM1031 40h11v1h-11zM1045 40h11v1h-11zM1059 40h11v1h-11zM1073 40h11v1h-11zM1087 40h11v1h-11zM1101 40h11v1h-11zM1115 40h11v1h-11zM1129 40h11v1h-11zM1143 40h11v1h-11zM1157 40h11v1h-11zM1171 40h11v1h-11zM1185 40h11v1h-11zM1199 40h11v1h-11zM1213 40h11v1h-11zM1227 40h11v1h-11zM1241 40h11v1h-11zM1255 40h11v1h-11zM1269 40h11v1h-11zM1283 40h11v1h-11zM1297 40h11v1h-11zM1311 40h11v1h-11zM1325 40h11v1h-11zM1339 40h11v1h-11zM1353 40h11v1h-11zM1367 40h11v1h-11zM1381 40h11v1h-11zM1395 40h11v1h-11zM1409 40h11v1h-11zM1423 40h11v1h-11zM1437 40h11v1h-11zM1451 40h11v1h-11zM1465 40h11v1h-11zM1479 40h11v1h-11zM1493 40h11v1h-11zM1507 40h11v1h-11zM1521 40h11v1h-11zM1535 40h11v1h-11zM1549 40h11v1h-11zM1563 40h11v1h-11zM1577 40h11v1h-11zM1591 40h11v1h-11zM1605 40h11v1h-11zM1619 40h11v1h-11zM1633 40h11v1h-11zM1647 40h11v1h-11zM1661 40h11v1h-11zM1675 40h11v1h-11zM1689 40h11v1h-11zM1703 40h11v1h-11zM1717 40h11v1h-11zM1731 40h11v1h-11zM1745 40h11v1h-11zM1759 40h11v1h-11zM1773 40h11v1h-11zM1787 40h11v1h-11zM1801 40h11v1h-11zM1815 40h11v1h-11zM1829 40h11v1h-11zM1843 40h11v1h-11zM1857 40h11v1h-11zM1871 40h11v1h-11zM1885 40h11v1h-11zM1899 40h11v1h-11zM1913 40h11v1h-11zM1927 40h11v1h-11zM1941 40h11v1h-11zM1955 40h11v1h-11zM1969 40h11v1h-11zM1983 40h11v1h-11zM1997 40h11v1h-11zM2011 40h11v1h-11zM2025 40h11v1h-11zM2039 40h11v1h-11zM2053 40h11v1h-11zM2067 40h11v1h-11zM2081 40h11v1h-11zM2095 40h11v1h-11zM2109 40h11v1h-11zM2123 40h11v1h-11z"/>
<path fill="#0000c8" d="M237 50h8v1h-8zM259 50h38v1h-38zM357 50h9v1h-9zM42 51h7v1h-7zM235 51h2v1h-2zM245 51h14v1h-14zM297 51h4v1h-4zM319 51h38v1h-38zM366 51h3v1h-3zM40 52h2v1h-2zM49 52h9v1h-9zM233 52h2v1h-2zM301 52h5v1h-5zM312 52h7v1h-7zM369 52h2v1h-2zM39 53h1v1h-1zM58 53h2v1h-2zM230 53h3v1h-3zM306 53h6v1h-6zM371 53h3v1h-3zM613 53h10v1h-10zM37 54h2v1h-2zM60 54h2v1h-2zM96 54h9v1h-9zM139 54h17v1h-17zM181 54h4v1h-4zM208 54h6v1h-6zM228 54h2v1h-2zM374 54h3v1h-3zM385 54h28v1h-28zM469 54h8v1h-8zM553 54h11v1h-11zM585 54h10v1h-10zM606 54h7v1h-7zM623 54h11v1h-11zM35 55h2v1h-2zM62 55h3v1h-3zM91 55h5v1h-5zM105 55h9v1h-9zM137 55h2v1h-2zM156 55h4v1h-4zM177 55h4v1h-4zM185 55h4v1h-4zM203 55h5v1h-5zM214 55h7v1h-7zM226 55h2v1h-2zM377 55h8v1h-8zM413 55h14v1h-14zM441 55h28v1h-28zM477 55h2v1h-2zM529 55h24v1h-24zM564 55h7v1h-7zM578 55h7v1h-7zM595 55h11v1h-11zM634 55h7v1h-7zM651 55h22v1h-22zM34 56h1v1h-1zM65 56h2v1h-2zM87 56h4v1h-4zM114 56h3v1h-3zM135 56h2v1h-2zM160 56h3v1h-3zM174 56h3v1h-3zM189 56h5v1h-5zM199 56h4v1h-4zM221 56h5v1h-5zM427 56h14v1h-14zM479 56h2v1h-2zM522 56h7v1h-7zM571 56h7v1h-7zM641 56h10v1h-10zM673 56h1v1h-1zM32 57h2v1h-2zM67 57h2v1h-2zM77 57h10v1h-10zM117 57h2v1h-2zM132 57h3v1h-3zM163 57h4v1h-4zM170 57h4v1h-4zM194 57h5v1h-5zM481 57h2v1h-2zM518 57h4v1h-4zM674 57h1v1h-1zM31 58h1v1h-1zM69 58h8v1h-8zM119 58h3v1h-3zM130 58h2v1h-2zM167 58h3v1h-3zM483 58h1v1h-1zM518 58h1v1h-1zM675 58h1v1h-1zM728 58h1v1h-1zM29 59h2v1h-2zM122 59h3v1h-3zM128 59h2v1h-2zM484 59h2v1h-2zM517 59h1v1h-1zM676 59h1v1h-1zM728 59h1v1h-1zM28 60h1v1h-1zM125 60h3v1h-3zM486 60h2v1h-2zM517 60h1v1h-1zM677 60h1v1h-1zM727 60h1v1h-1zM729 60h1v1h-1zM488 61h2v1h-2zM516 61h1v1h-1zM678 61h1v1h-1zM727 61h1v1h-1zM729 61h1v1h-1zM490 62h1v1h-1zM516 62h1v1h-1zM679 62h2v1h-2zM727 62h1v1h-1zM729 62h1v1h-1zM491 63h1v1h-1zM515 63h1v1h-1zM681 63h1v1h-1zM726 63h1v1h-1zM729 63h1v1h-1zM491 64h1v1h-1zM515 64h1v1h-1zM682 64h1v1h-1zM726 64h1v1h-1zM730 64h1v1h-1zM1407 64h126v1h-126zM492 65h1v1h-1zM515 65h1v1h-1zM683 65h1v1h-1zM726 65h1v1h-1zM730 65h1v1h-1zM1365 65h42v1h-42zM1533 65h28v1h-28zM492 66h1v1h-1zM514 66h1v1h-1zM684 66h1v1h-1zM725 66h1v1h-1zM730 66h1v1h-1zM1355 66h10v1h-10zM1561 66h42v1h-42zM493 67h1v1h-1zM514 67h1v1h-1zM685 67h1v1h-1zM725 67h1v1h-1zM731 67h1v1h-1zM1348 67h7v1h-7zM1603 67h28v1h-28zM493 68h1v1h-1zM513 68h1v1h-1zM686 68h4v1h-4zM725 68h1v1h-1zM731 68h1v1h-1zM1337 68h11v1h-11zM1631 68h28v1h-28zM494 69h1v1h-1zM513 69h1v1h-1zM690 69h7v1h-7zM724 69h1v1h-1zM731 69h1v1h-1zM1328 69h9v1h-9zM1659 69h28v1h-28zM494 70h1v1h-1zM512 70h1v1h-1zM697 70h4v1h-4zM724 70h1v1h-1zM731 70h1v1h-1zM1323 70h5v1h-5zM1687 70h14v1h-14zM495 71h1v1h-1zM512 71h1v1h-1zM700 71h1v1h-1zM724 71h1v1h-1zM732 71h1v1h-1zM1319 71h4v1h-4zM1701 71h14v1h-14zM495 72h1v1h-1zM512 72h1v1h-1zM701 72h1v1h-1zM723 72h1v1h-1zM732 72h1v1h-1zM1309 72h10v1h-10zM1715 72h28v1h-28zM496 73h1v1h-1zM511 73h1v1h-1zM701 73h1v1h-1zM723 73h1v1h-1zM732 73h1v1h-1zM1295 73h14v1h-14zM1743 73h14v1h-14zM496 74h1v1h-1zM511 74h1v1h-1zM702 74h1v1h-1zM723 74h1v1h-1zM732 74h1v1h-1zM1281 74h14v1h-14zM1757 74h14v1h-14zM497 75h1v1h-1zM510 75h1v1h-1zM702 75h1v1h-1zM722 75h1v1h-1zM733 75h1v1h-1zM1271 75h10v1h-10zM1771 75h14v1h-14zM497 76h1v1h-1zM510 76h1v1h-1zM703 76h1v1h-1zM722 76h1v1h-1zM733 76h1v1h-1zM812 76h1v1h-1zM1264 76h7v1h-7zM1785 76h14v1h-14zM498 77h1v1h-1zM510 77h1v1h-1zM703 77h1v1h-1zM722 77h1v1h-1zM733 77h1v1h-1zM812 77h1v1h-1zM1257 77h7v1h-7zM1799 77h14v1h-14zM498 78h1v1h-1zM509 78h1v1h-1zM704 78h1v1h-1zM721 78h1v1h-1zM734 78h1v1h-1zM811 78h1v1h-1zM813 78h1v1h-1zM882 78h1v1h-1zM1250 78h7v1h-7zM1813 78h14v1h-14zM499 79h1v1h-1zM509 79h1v1h-1zM704 79h1v1h-1zM721 79h1v1h-1zM734 79h1v1h-1zM811 79h1v1h-1zM813 79h1v1h-1zM881 79h2v1h-2zM1243 79h7v1h-7zM1827 79h14v1h-14zM499 80h1v1h-1zM508 80h1v1h-1zM705 80h1v1h-1zM720 80h1v1h-1zM734 80h1v1h-1zM810 80h1v1h-1zM814 80h1v1h-1zM880 80h1v1h-1zM883 80h1v1h-1zM1236 80h7v1h-7zM1841 80h14v1h-14zM500 81h1v1h-1zM508 81h1v1h-1zM705 81h1v1h-1zM720 81h1v1h-1zM734 81h1v1h-1zM810 81h1v1h-1zM814 81h1v1h-1zM880 81h1v1h-1zM883 81h1v1h-1zM966 81h1v1h-1zM1225 81h11v1h-11zM1855 81h14v1h-14zM500 82h1v1h-1zM507 82h1v1h-1zM706 82h1v1h-1zM720 82h1v1h-1zM735 82h1v1h-1zM784 82h1v1h-1zM809 82h1v1h-1zM815 82h1v1h-1zM879 82h1v1h-1zM884 82h1v1h-1zM965 82h2v1h-2zM1215 82h10v1h-10zM1869 82h14v1h-14zM501 83h1v1h-1zM507 83h1v1h-1zM706 83h1v1h-1zM719 83h1v1h-1zM735 83h1v1h-1zM783 83h1v1h-1zM785 83h1v1h-1zM809 83h1v1h-1zM815 83h1v1h-1zM878 83h1v1h-1zM884 83h1v1h-1zM964 83h1v1h-1zM967 83h1v1h-1zM1208 83h7v1h-7zM1883 83h14v1h-14zM501 84h1v1h-1zM507 84h1v1h-1zM707 84h1v1h-1zM719 84h1v1h-1zM735 84h1v1h-1zM782 84h1v1h-1zM785 84h1v1h-1zM808 84h1v1h-1zM816 84h1v1h-1zM877 84h1v1h-1zM885 84h1v1h-1zM963 84h1v1h-1zM967 84h1v1h-1zM1197 84h11v1h-11zM1897 84h14v1h-14zM502 85h1v1h-1zM506 85h1v1h-1zM707 85h1v1h-1zM719 85h1v1h-1zM736 85h1v1h-1zM782 85h1v1h-1zM786 85h1v1h-1zM808 85h1v1h-1zM816 85h1v1h-1zM876 85h1v1h-1zM885 85h1v1h-1zM963 85h1v1h-1zM968 85h1v1h-1zM1187 85h10v1h-10zM1911 85h11v1h-11zM502 86h1v1h-1zM506 86h1v1h-1zM708 86h1v1h-1zM718 86h1v1h-1zM736 86h1v1h-1zM781 86h1v1h-1zM787 86h1v1h-1zM807 86h1v1h-1zM817 86h1v1h-1zM875 86h1v1h-1zM886 86h1v1h-1zM962 86h1v1h-1zM968 86h1v1h-1zM1180 86h7v1h-7zM1922 86h7v1h-7zM503 87h1v1h-1zM505 87h1v1h-1zM708 87h1v1h-1zM718 87h1v1h-1zM736 87h1v1h-1zM780 87h1v1h-1zM787 87h1v1h-1zM807 87h1v1h-1zM817 87h1v1h-1zM875 87h1v1h-1zM886 87h1v1h-1zM961 87h1v1h-1zM969 87h1v1h-1zM1141 87h39v1h-39zM1929 87h10v1h-10zM503 88h1v1h-1zM505 88h1v1h-1zM709 88h1v1h-1zM718 88h1v1h-1zM736 88h1v1h-1zM779 88h1v1h-1zM788 88h1v1h-1zM806 88h1v1h-1zM818 88h1v1h-1zM874 88h1v1h-1zM887 88h1v1h-1zM960 88h1v1h-1zM969 88h1v1h-1zM1113 88h28v1h-28zM1939 88h14v1h-14zM504 89h1v1h-1zM709 89h1v1h-1zM717 89h1v1h-1zM737 89h1v1h-1zM778 89h1v1h-1zM788 89h1v1h-1zM806 89h1v1h-1zM818 89h1v1h-1zM873 89h1v1h-1zM887 89h1v1h-1zM959 89h1v1h-1zM969 89h1v1h-1zM1105 89h8v1h-8zM1953 89h14v1h-14zM504 90h1v1h-1zM710 90h1v1h-1zM717 90h1v1h-1zM737 90h1v1h-1zM777 90h1v1h-1zM789 90h1v1h-1zM805 90h1v1h-1zM819 90h1v1h-1zM872 90h1v1h-1zM887 90h1v1h-1zM958 90h1v1h-1zM970 90h1v1h-1zM1101 90h4v1h-4zM1967 90h11v1h-11zM710 91h1v1h-1zM717 91h1v1h-1zM737 91h1v1h-1zM777 91h1v1h-1zM790 91h1v1h-1zM805 91h1v1h-1zM819 91h1v1h-1zM871 91h1v1h-1zM888 91h1v1h-1zM957 91h1v1h-1zM970 91h1v1h-1zM1098 91h3v1h-3zM1978 91h7v1h-7zM711 92h1v1h-1zM716 92h1v1h-1zM738 92h1v1h-1zM776 92h1v1h-1zM790 92h1v1h-1zM804 92h1v1h-1zM819 92h1v1h-1zM870 92h1v1h-1zM888 92h1v1h-1zM956 92h1v1h-1zM971 92h1v1h-1zM1094 92h4v1h-4zM1985 92h10v1h-10zM711 93h1v1h-1zM716 93h1v1h-1zM738 93h1v1h-1zM775 93h1v1h-1zM791 93h1v1h-1zM804 93h1v1h-1zM820 93h1v1h-1zM870 93h1v1h-1zM889 93h1v1h-1zM956 93h1v1h-1zM971 93h1v1h-1zM1092 93h2v1h-2zM1995 93h14v1h-14zM712 94h1v1h-1zM716 94h1v1h-1zM738 94h1v1h-1zM774 94h1v1h-1zM792 94h1v1h-1zM803 94h1v1h-1zM820 94h1v1h-1zM869 94h1v1h-1zM889 94h1v1h-1zM955 94h1v1h-1zM972 94h1v1h-1zM1091 94h1v1h-1zM2009 94h14v1h-14zM712 95h1v1h-1zM715 95h1v1h-1zM738 95h1v1h-1zM773 95h1v1h-1zM792 95h1v1h-1zM803 95h1v1h-1zM821 95h1v1h-1zM868 95h1v1h-1zM890 95h1v1h-1zM910 95h1v1h-1zM954 95h1v1h-1zM972 95h1v1h-1zM1090 95h1v1h-1zM2023 95h11v1h-11zM713 96h1v1h-1zM715 96h1v1h-1zM739 96h1v1h-1zM772 96h1v1h-1zM793 96h1v1h-1zM802 96h1v1h-1zM821 96h1v1h-1zM866 96h2v1h-2zM890 96h1v1h-1zM909 96h1v1h-1zM911 96h1v1h-1zM953 96h1v1h-1zM972 96h1v1h-1zM1029 96h8v1h-8zM1089 96h1v1h-1zM2034 96h7v1h-7zM713 97h1v1h-1zM715 97h1v1h-1zM739 97h1v1h-1zM772 97h1v1h-1zM794 97h1v1h-1zM802 97h1v1h-1zM822 97h1v1h-1zM865 97h1v1h-1zM891 97h1v1h-1zM908 97h1v1h-1zM912 97h1v1h-1zM952 97h1v1h-1zM973 97h1v1h-1zM1019 97h10v1h-10zM1037 97h2v1h-2zM1088 97h1v1h-1zM2041 97h10v1h-10zM714 98h1v1h-1zM739 98h1v1h-1zM771 98h1v1h-1zM794 98h1v1h-1zM801 98h1v1h-1zM822 98h1v1h-1zM840 98h1v1h-1zM864 98h1v1h-1zM891 98h1v1h-1zM907 98h1v1h-1zM912 98h1v1h-1zM950 98h2v1h-2zM973 98h1v1h-1zM1012 98h7v1h-7zM1039 98h2v1h-2zM1087 98h1v1h-1zM2051 98h14v1h-14zM714 99h1v1h-1zM739 99h1v1h-1zM770 99h1v1h-1zM795 99h1v1h-1zM801 99h1v1h-1zM823 99h1v1h-1zM838 99h2v1h-2zM841 99h2v1h-2zM862 99h2v1h-2zM891 99h1v1h-1zM906 99h1v1h-1zM913 99h1v1h-1zM949 99h1v1h-1zM974 99h1v1h-1zM1008 99h4v1h-4zM1041 99h2v1h-2zM1085 99h2v1h-2zM2065 99h11v1h-11zM740 100h1v1h-1zM768 100h2v1h-2zM795 100h1v1h-1zM800 100h1v1h-1zM823 100h1v1h-1zM836 100h2v1h-2zM843 100h2v1h-2zM861 100h1v1h-1zM892 100h1v1h-1zM905 100h1v1h-1zM914 100h1v1h-1zM948 100h1v1h-1zM974 100h1v1h-1zM1007 100h1v1h-1zM1043 100h2v1h-2zM1084 100h1v1h-1zM2076 100h7v1h-7zM740 101h1v1h-1zM767 101h1v1h-1zM796 101h1v1h-1zM800 101h1v1h-1zM824 101h1v1h-1zM834 101h2v1h-2zM845 101h2v1h-2zM859 101h2v1h-2zM892 101h1v1h-1zM904 101h1v1h-1zM915 101h1v1h-1zM946 101h2v1h-2zM974 101h1v1h-1zM1006 101h1v1h-1zM1045 101h2v1h-2zM1083 101h1v1h-1zM2083 101h10v1h-10zM740 102h1v1h-1zM765 102h2v1h-2zM797 102h1v1h-1zM799 102h1v1h-1zM824 102h1v1h-1zM833 102h1v1h-1zM847 102h2v1h-2zM858 102h1v1h-1zM893 102h1v1h-1zM903 102h1v1h-1zM915 102h1v1h-1zM945 102h1v1h-1zM975 102h1v1h-1zM1005 102h1v1h-1zM1047 102h2v1h-2zM1082 102h1v1h-1zM2093 102h11v1h-11zM741 103h1v1h-1zM763 103h2v1h-2zM797 103h1v1h-1zM799 103h1v1h-1zM825 103h1v1h-1zM831 103h2v1h-2zM849 103h2v1h-2zM857 103h1v1h-1zM893 103h1v1h-1zM902 103h1v1h-1zM916 103h1v1h-1zM943 103h2v1h-2zM975 103h1v1h-1zM1004 103h1v1h-1zM1049 103h3v1h-3zM1081 103h1v1h-1zM2104 103h7v1h-7zM741 104h1v1h-1zM762 104h1v1h-1zM798 104h1v1h-1zM825 104h1v1h-1zM829 104h2v1h-2zM851 104h2v1h-2zM855 104h2v1h-2zM894 104h1v1h-1zM901 104h1v1h-1zM917 104h1v1h-1zM942 104h1v1h-1zM976 104h1v1h-1zM1003 104h1v1h-1zM1052 104h2v1h-2zM1080 104h1v1h-1zM2111 104h5v1h-5zM741 105h1v1h-1zM760 105h2v1h-2zM826 105h3v1h-3zM853 105h2v1h-2zM894 105h1v1h-1zM900 105h1v1h-1zM918 105h1v1h-1zM941 105h1v1h-1zM976 105h1v1h-1zM1002 105h1v1h-1zM1054 105h2v1h-2zM1079 105h1v1h-1zM2116 105h4v1h-4zM741 106h1v1h-1zM759 106h1v1h-1zM826 106h1v1h-1zM895 106h1v1h-1zM899 106h1v1h-1zM919 106h1v1h-1zM939 106h2v1h-2zM977 106h1v1h-1zM1001 106h1v1h-1zM1056 106h3v1h-3zM1076 106h3v1h-3zM2120 106h3v1h-3zM742 107h1v1h-1zM757 107h2v1h-2zM895 107h1v1h-1zM898 107h1v1h-1zM919 107h1v1h-1zM937 107h2v1h-2zM977 107h1v1h-1zM1000 107h1v1h-1zM1059 107h2v1h-2zM1071 107h5v1h-5zM2123 107h4v1h-4zM742 108h15v1h-15zM896 108h2v1h-2zM920 108h1v1h-1zM935 108h2v1h-2zM977 108h1v1h-1zM999 108h1v1h-1zM1061 108h2v1h-2zM1067 108h4v1h-4zM2127 108h2v1h-2zM896 109h1v1h-1zM921 109h1v1h-1zM933 109h2v1h-2zM978 109h1v1h-1zM998 109h1v1h-1zM1063 109h4v1h-4zM922 110h1v1h-1zM930 110h3v1h-3zM978 110h1v1h-1zM997 110h1v1h-1zM922 111h1v1h-1zM928 111h2v1h-2zM979 111h1v1h-1zM996 111h1v1h-1zM923 112h1v1h-1zM926 112h2v1h-2zM979 112h1v1h-1zM995 112h1v1h-1zM924 113h2v1h-2zM980 113h1v1h-1zM987 113h8v1h-8zM980 114h7v1h-7z"/>
</g>
<defs><filter id="t5" x="0" y="0" width="100%" height="100%" filterUnits="userSpaceOnUse"><feComponentTransfer><feFuncA type="discrete" tableValues="0 0 1 1"/></feComponentTransfer></filter><filter id="t4" x="0" y="0" width="100%" height="100%" filterUnits="userSpaceOnUse"><feComponentTransfer><feFuncA type="discrete" tableValues="0 0 1 1 1"/></feComponentTransfer></filter><filter id="t3" x="0" y="0" width="100%" height="100%" filterUnits="userSpaceOnUse"><feComponentTransfer><feFuncA type="discrete" tableValues="0 1 1"/></feComponentTransfer></filter></defs>
<g filter="url(#t4)" font-size="13">
<text x="1096.25" y="30">b</text><text x="1176.25" y="595">b</text>
</g>
<g filter="url(#t5)" font-size="13">
<text x="2.25" y="566">0</text><text x="2" y="540">2</text><text x="2.25" y="514">4</text><text x="2.25" y="488">6</text><text x="2" y="462">8</text><text x="2.25" y="436">1</text><text x="10.25" y="436">0</text><text x="2.25" y="410">1</text><text x="10" y="410">2</text><text x="2.25" y="384">1</text><text x="10.25" y="384">4</text><text x="2.25" y="358">1</text><text x="10.25" y="358">6</text><text x="2.25" y="332">1</text><text x="10" y="332">8</text><text x="2" y="306">2</text><text x="10.25" y="306">0</text><text x="2" y="280">2</text><text x="10" y="280">2</text><text x="2" y="254">2</text><text x="10.25" y="254">4</text><text x="2" y="228">2</text><text x="10.25" y="228">6</text><text x="2" y="202">2</text><text x="10" y="202">8</text><text x="2.25" y="176">3</text><text x="10.25" y="176">0</text><text x="2.25" y="150">3</text><text x="10" y="150">2</text><text x="2.25" y="124">3</text><text x="10.25" y="124">4</text><text x="2.25" y="98">3</text><text x="10.25" y="98">6</text><text x="2.25" y="72">3</text><text x="10" y="72">8</text><text x="2.25" y="46">4</text><text x="10.25" y="46">0</text><text x="24.25" y="575">1</text><text x="38" y="575">2</text><text x="52.25" y="575">3</text><text x="66.25" y="575">4</text><text x="80.25" y="575">5</text><text x="94.25" y="575">6</text><text x="108.25" y="575">7</text><text x="122" y="575">8</text><text x="136" y="575">9</text><text x="160.25" y="575">1</text><text x="168.25" y="575">1</text><text x="188.25" y="575">1</text><text x="196.25" y="575">3</text><text x="216.25" y="575">1</text><text x="224.25" y="575">5</text><text x="244.25" y="575">1</text><text x="252.25" y="575">7</text><text x="272.25" y="575">1</text><text x="280" y="575">9</text><text x="300" y="575">2</text><text x="308.25" y="575">1</text><text x="328" y="575">2</text><text x="336.25" y="575">3</text><text x="356" y="575">2</text><text x="364.25" y="575">5</text><text x="384" y="575">2</text><text x="392.25" y="575">7</text><text x="412" y="575">2</text><text x="420" y="575">9</text><text x="440.25" y="575">3</text><text x="448.25" y="575">1</text><text x="468.25" y="575">3</text><text x="476.25" y="575">3</text><text x="496.25" y="575">3</text><text x="504.25" y="575">5</text><text x="524.25" y="575">3</text><text x="532.25" y="575">7</text><text x="552.25" y="575">3</text><text x="560" y="575">9</text><text x="580.25" y="575">4</text><text x="588.25" y="575">1</text><text x="608.25" y="575">4</text><text x="616.25" y="575">3</text><text x="636.25" y="575">4</text><text x="644.25" y="575">5</text><text x="664.25" y="575">4</text><text x="672.25" y="575">7</text><text x="692.25" y="575">4</text><text x="700" y="575">9</text><text x="720.25" y="575">5</text><text x="728.25" y="575">1</text><text x="748.25" y="575">5</text><text x="756.25" y="575">3</text><text x="776.25" y="575">5</text><text x="784.25" y="575">5</text><text x="804.25" y="575">5</text><text x="812.25" y="575">7</text><text x="832.25" y="575">5</text><text x="840" y="575">9</text><text x="860.25" y="575">6</text><text x="868.25" y="575">1</text><text x="888.25" y="575">6</text><text x="896.25" y="575">3</text><text x="916.25" y="575">6</text><text x="924.25" y="575">5</text><text x="944.25" y="575">6</text><text x="952.25" y="575">7</text><text x="972.25" y="575">6</text><text x="980" y="575">9</text><text x="1000.25" y="575">7</text><text x="1008.25" y="575">1</text><text x="1028.25" y="575">7</text><text x="1036.25" y="575">3</text><text x="1056.25" y="575">7</text><text x="1064.25" y="575">5</text><text x="1084.25" y="575">7</text><text x="1092.25" y="575">7</text><text x="1112.25" y="575">7</text><text x="1120" y="575">9</text><text x="1140" y="575">8</text><text x="1148.25" y="575">1</text><text x="1168" y="575">8</text><text x="1176.25" y="575">3</text><text x="1196" y="575">8</text><text x="1204.25" y="575">5</text><text x="1224" y="575">8</text><text x="1232.25" y="575">7</text><text x="1252" y="575">8</text><text x="1260" y="575">9</text><text x="1280" y="575">9</text><text x="1288.25" y="575">1</text><text x="1308" y="575">9</text><text x="1316.25" y="575">3</text><text x="1336" y="575">9</text><text x="1344.25" y="575">5</text><text x="1364" y="575">9</text><text x="1372.25" y="575">7</text><text x="1392" y="575">9</text><text x="1400" y="575">9</text><text x="1416.25" y="575">1</text><text x="1424.25" y="575">0</text><text x="1432.25" y="575">1</text><text x="1458.25" y="575">1</text><text x="1466.25" y="575">0</text><text x="1474.25" y="575">4</text><text x="1500.25" y="575">1</text><text x="1508.25" y="575">0</text><text x="1516.25" y="575">7</text><text x="1542.25" y="575">1</text><text x="1550.25" y="575">1</text><text x="1558.25" y="575">0</text><text x="1584.25" y="575">1</text><text x="1592.25" y="575">1</text><text x="1600.25" y="575">3</text><text x="1626.25" y="575">1</text><text x="1634.25" y="575">1</text><text x="1642.25" y="575">6</text><text x="1668.25" y="575">1</text><text x="1676.25" y="575">1</text><text x="1684" y="575">9</text><text x="1710.25" y="575">1</text><text x="1718" y="575">2</text><text x="1726" y="575">2</text><text x="1752.25" y="575">1</text><text x="1760" y="575">2</text><text x="1768.25" y="575">5</text><text x="1794.25" y="575">1</text><text x="1802" y="575">2</text><text x="1810" y="575">8</text><text x="1836.25" y="575">1</text><text x="1844.25" y="575">3</text><text x="1852.25" y="575">1</text><text x="1878.25" y="575">1</text><text x="1886.25" y="575">3</text><text x="1894.25" y="575">4</text><text x="1920.25" y="575">1</text><text x="1928.25" y="575">3</text><text x="1936.25" y="575">7</text><text x="1962.25" y="575">1</text><text x="1970.25" y="575">4</text><text x="1978.25" y="575">0</text><text x="2004.25" y="575">1</text><text x="2012.25" y="575">4</text><text x="2020.25" y="575">3</text><text x="2046.25" y="575">1</text><text x="2054.25" y="575">4</text><text x="2062.25" y="575">6</text><text x="2088.25" y="575">1</text><text x="2096.25" y="575">4</text><text x="2104" y="575">9</text><text x="939" y="30">Q</text><text x="949.5" y="30">u</text><text x="957" y="30">a</text><text x="965" y="30">l</text><text x="968" y="30">i</text><text x="972" y="30">t</text><text x="976" y="30">y</text><text x="987.25" y="30">s</text><text x="994" y="30">c</text><text x="1001.25" y="30">o</text><text x="1009" y="30">r</text><text x="1014" y="30">e</text><text x="1021.25" y="30">s</text><text x="1032" y="30">a</text><text x="1040" y="30">c</text><text x="1047" y="30">r</text><text x="1052.25" y="30">o</text><text x="1059.25" y="30">s</text><text x="1066.25" y="30">s</text><text x="1078" y="30">a</text><text x="1085" y="30">l</text><text x="1089" y="30">l</text><text x="1104" y="30">a</text><text x="1111.25" y="30">s</text><text x="1119" y="30">e</text><text x="1126.25" y="30">s</text><text x="1138" y="30">(</text><text x="1142" y="30">S</text><text x="1151" y="30">a</text><text x="1159" y="30">n</text><text x="1167" y="30">g</text><text x="1175" y="30">e</text><text x="1182" y="30">r</text><text x="1191" y="30">/</text><text x="1199" y="30">I</text><text x="1204" y="30">l</text><text x="1207" y="30">l</text><text x="1210.5" y="30">u</text><text x="1218" y="30">m</text><text x="1229" y="30">i</text><text x="1233" y="30">n</text><text x="1241" y="30">a</text><text x="1252.25" y="30">1</text><text x="1260" y="30">.</text><text x="1264" y="30">9</text><text x="1276" y="30">e</text><text x="1284" y="30">n</text><text x="1291" y="30">c</text><text x="1298.25" y="30">o</text><text x="1306" y="30">d</text><text x="1314" y="30">i</text><text x="1317" y="30">n</text><text x="1325" y="30">g</text><text x="1333" y="30">)</text><text x="1068" y="595">P</text><text x="1077.25" y="595">o</text><text x="1085.25" y="595">s</text><text x="1092" y="595">i</text><text x="1096" y="595">t</text><text x="1100" y="595">i</text><text x="1103.25" y="595">o</text><text x="1111" y="595">n</text><text x="1123" y="595">i</text><text x="1127" y="595">n</text><text x="1139" y="595">r</text><text x="1143" y="595">e</text><text x="1151" y="595">a</text><text x="1159" y="595">d</text><text x="1171" y="595">(</text><text x="1184" y="595">p</text><text x="1192" y="595">)</text>
</g>
</svg></body></html>
